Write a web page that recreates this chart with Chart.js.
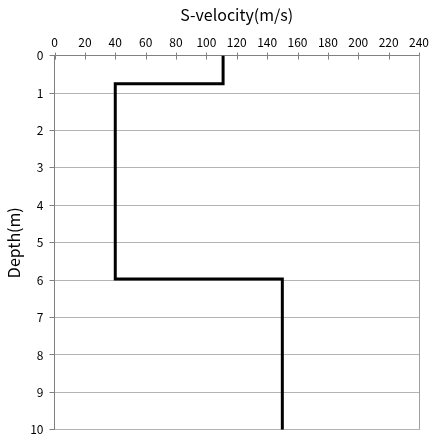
<!DOCTYPE html>
<html>
<head>
<meta charset="utf-8">
<script src="https://cdn.jsdelivr.net/npm/chart.js@4/dist/chart.umd.min.js"></script>
<style>
  html, body { margin: 0; padding: 0; background: #fff; }
  #wrap { width: 435px; height: 443px; }
</style>
</head>
<body>
<div id="wrap"><canvas id="profileChart"></canvas></div>
<script>
// layer boundaries
const velocities = [111, 111, 40, 40, 150, 150];
const depths = [0, 0.75, 0.75, 5.97, 5.97, 10];
const xTicks = [0, 20, 40, 60, 80, 100, 120, 140, 160, 180, 200, 220, 240];
const yTicks = [0, 1, 2, 3, 4, 5, 6, 7, 8, 9, 10];

const points = velocities.map((v, i) => ({ x: v, y: depths[i] }));
const fontFamily = "'Noto Sans CJK JP', 'DejaVu Sans', sans-serif";
const tickFont = { family: fontFamily, size: 12 };

// small tick marks across the top axis line (they cross it in the reference)
const crossTicks = {
    id: 'crossTicks',
    afterDraw(chart) {
        const ctx = chart.ctx;
        const xs = chart.scales.x;
        const top = chart.chartArea.top;
        ctx.save();
        ctx.strokeStyle = '#808080';
        ctx.lineWidth = 1;
        xTicks.forEach(function(t) {
            const px = Math.round(xs.getPixelForValue(t)) + 0.5;
            ctx.beginPath();
            ctx.moveTo(px, top - 3);
            ctx.lineTo(px, top + 4);
            ctx.stroke();
        });
        ctx.restore();
    }
};

const rightBorder = {
    id: 'rightBorder',
    afterDraw(chart) {
        const a = chart.chartArea;
        const c = chart.ctx;
        c.save();
        c.strokeStyle = '#a0a0a0';
        c.lineWidth = 1;
        c.beginPath();
        c.moveTo(Math.round(a.right) + 0.5, a.top);
        c.lineTo(Math.round(a.right) + 0.5, a.bottom);
        c.stroke();
        c.restore();
    }
};

const ctx = document.getElementById('profileChart').getContext('2d');
new Chart(ctx, {
    type: 'scatter',
    data: {
        datasets: [{
            data: points,
            showLine: true,
            borderColor: '#000',
            borderWidth: 3,
            pointRadius: 0,
            tension: 0,
            borderJoinStyle: 'miter'
        }]
    },
    options: {
        responsive: true,
        maintainAspectRatio: false,
        animation: false,
        layout: { padding: { top: 5, right: 12, bottom: 0, left: 0 } },
        plugins: {
            legend: { display: false },
            tooltip: { enabled: false }
        },
        scales: {
            x: {
                position: 'top',
                min: 0,
                max: 240,
                afterBuildTicks: function(scale) { scale.ticks = xTicks.map(v => ({ value: v })); },
                grid: { drawOnChartArea: false, drawTicks: false },
                border: { color: '#808080' },
                ticks: { color: '#000', font: tickFont, padding: 6, maxRotation: 0 },
                title: {
                    display: true,
                    text: 'S-velocity(m/s)',
                    color: '#000',
                    font: { family: fontFamily, size: 16 },
                    padding: { top: 0, bottom: 5 }
                }
            },
            y: {
                reverse: true,
                min: 0,
                max: 10,
                afterBuildTicks: function(scale) { scale.ticks = yTicks.map(v => ({ value: v })); },
                grid: { color: '#b4b4b4', tickLength: 5, tickColor: '#808080' },
                border: { color: '#808080' },
                ticks: { color: '#000', font: tickFont, padding: 6 },
                title: {
                    display: true,
                    text: 'Depth(m)',
                    color: '#000',
                    font: { family: fontFamily, size: 16 },
                    padding: { top: 4, bottom: 1 }
                }
            }
        }
    },
    plugins: [crossTicks, rightBorder]
});
</script>
</body>
</html>
